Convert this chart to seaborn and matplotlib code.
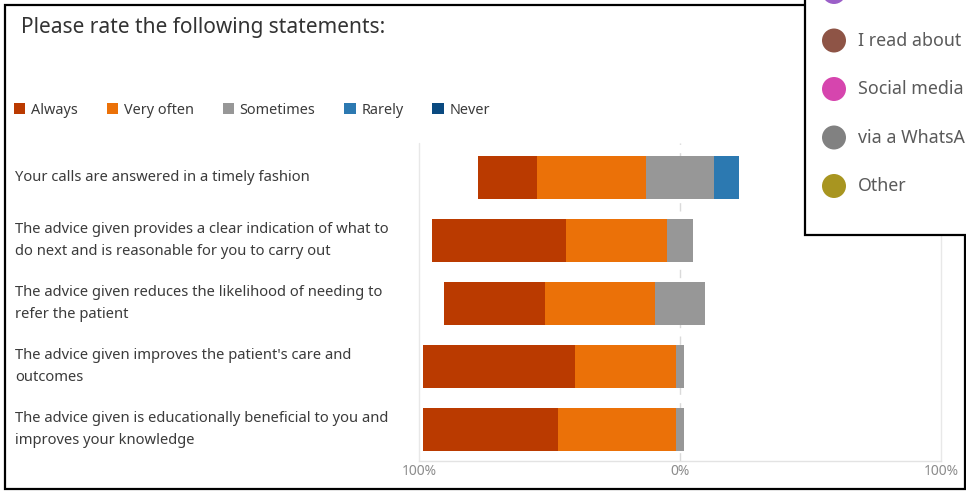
import numpy as np
import pandas as pd
import matplotlib
matplotlib.use("Agg")
import matplotlib.pyplot as plt
import matplotlib.transforms as mtransforms
from matplotlib.patches import Rectangle, Circle, Patch
import seaborn as sns

# ---------------- data ----------------
statements = [
    "Your calls are answered in a timely fashion",
    "The advice given provides a clear indication of what to\ndo next and is reasonable for you to carry out",
    "The advice given reduces the likelihood of needing to\nrefer the patient",
    "The advice given improves the patient's care and\noutcomes",
    "The advice given is educationally beneficial to you and\nimproves your knowledge",
]
levels = ["Always", "Very often", "Sometimes", "Rarely", "Never"]
always = [22.6, 51.6, 38.7, 58.1, 51.6]
very_often = [41.9, 38.7, 41.9, 38.7, 45.2]
sometimes = [25.8, 9.7, 19.4, 3.2, 3.2]
rarely = [9.7, 0.0, 0.0, 0.0, 0.0]
never = [0.0, 0.0, 0.0, 0.0, 0.0]
tick_values = [-100, 0, 100]
tick_labels = ["100%", "0%", "100%"]
title = "Please rate the following statements:"
popup_labels = ["I read about", "Social media", "via a WhatsA", "Other"]

# ---------------- style ----------------
level_colors = ["#BA3A00", "#EB7108", "#979797", "#2C79B1", "#0A4A80"]
popup_colors = ["#9B5FC8", "#8E5446", "#D645AE", "#818181", "#A89520"]
FONT = ["Noto Sans", "DejaVu Sans"]

sns.set_theme(style="white")
plt.rcParams["font.family"] = FONT

W, H = 966, 491
fig = plt.figure(figsize=(W / 100, H / 100), dpi=100)
fig.patch.set_facecolor("white")

def fx(px):
    return px / W

def fy(py):
    return 1 - py / H

ax = fig.add_axes([fx(419), fy(461), fx(941) - fx(419), (461 - 146) / H])

df = pd.DataFrame({
    "statement": [f"s{i}" for i in range(len(statements))],
    "always": always, "very_often": very_often, "sometimes": sometimes,
    "rarely": rarely, "never": never,
})
s_half = df["sometimes"] / 2
df["l_always"] = -(df["always"] + df["very_often"] + s_half)
df["l_vo"] = -(df["very_often"] + s_half)
df["l_s"] = -s_half
df["r_never"] = s_half + df["rarely"] + df["never"]
df["r_rarely"] = s_half + df["rarely"]
df["r_s"] = s_half

# gridlines first (behind bars)
ax.axvline(-100, color="#e8e8e8", lw=1, zorder=0, ymax=1.01, clip_on=False)
ax.axvline(100, color="#e8e8e8", lw=1, zorder=0, ymax=1.01, clip_on=False)
ax.axvline(0, color="#dadada", lw=1, ls=(0, (6, 6)), zorder=0, ymax=1.01, clip_on=False)

layers = [("l_always", 0), ("l_vo", 1), ("l_s", 2),
          ("r_never", 4), ("r_rarely", 3), ("r_s", 2)]
for col, ci in layers:
    sns.barplot(data=df, x=col, y="statement", orient="h", color=level_colors[ci],
                saturation=1, width=0.68, errorbar=None, ax=ax, linewidth=0)
for p in ax.patches:
    p.set_zorder(3)

ax.set_xlim(-100, 100)
ax.set_ylim(len(statements) - 0.5, -0.5)
ax.set_xlabel("")
ax.set_ylabel("")
ax.set_yticks([])
ax.set_xticks(tick_values)
ax.set_xticklabels(tick_labels)
ax.tick_params(axis="x", length=0, pad=2, labelsize=10, labelcolor="#8c8c8c")
for s in ["top", "right", "left"]:
    ax.spines[s].set_visible(False)
ax.spines["bottom"].set_color("#e3e3e3")
ax.spines["bottom"].set_linewidth(1)

# statement labels
trans = mtransforms.blended_transform_factory(fig.transFigure, ax.transData)
for i, lab in enumerate(statements):
    ax.text(fx(15), i, lab, transform=trans, ha="left", va="center",
            fontsize=10.6, color="#3b3b3b", linespacing=1.6)

# title
fig.text(fx(21), fy(27), title, ha="left", va="center", fontsize=15, color="#333333")

# legend
handles = [Patch(facecolor=c, edgecolor="none") for c in level_colors]
fig.legend(handles, levels, loc="center left", bbox_to_anchor=(fx(14), fy(110)),
           ncol=5, frameon=False, fontsize=10.4, handlelength=0.78, handleheight=0.78,
           handletextpad=0.4, columnspacing=2.0, borderpad=0, borderaxespad=0,
           labelcolor="#3b3b3b")

# outer border
fig.add_artist(Rectangle((fx(5), fy(489)), fx(965) - fx(5), fy(5) - fy(489),
                         transform=fig.transFigure, fill=False, ec="black", lw=1.6, zorder=20))

# overlapping popup panel (top right)
fig.add_artist(Rectangle((fx(805), fy(235)), fx(1000) - fx(805), fy(-20) - fy(235),
                         transform=fig.transFigure, fc="white", ec="black", lw=1.6, zorder=30))
ident = mtransforms.IdentityTransform()
circle_y = [-8, 40.5, 89, 137.5, 186]
for k, cy in enumerate(circle_y):
    fig.add_artist(Circle((834, H - cy), 12, transform=ident, fc=popup_colors[k],
                          ec="none", zorder=31))
for k, lab in enumerate(popup_labels):
    fig.text(fx(858), fy(circle_y[k + 1]), lab, ha="left", va="center",
             fontsize=12.8, color="#5a5a5a", zorder=32)

fig.savefig("out.png", dpi=100)
